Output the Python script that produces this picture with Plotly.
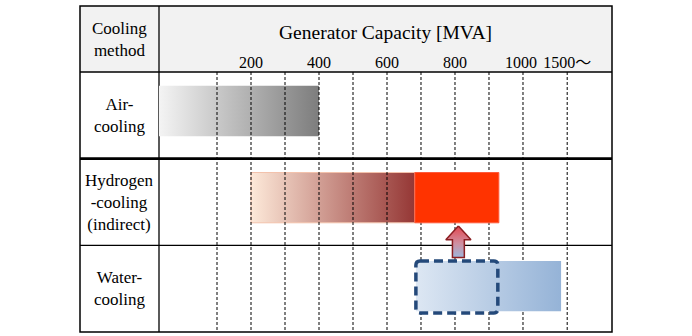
import plotly.graph_objects as go

W, H = 692, 336
FONT = "Liberation Serif, Noto Sans CJK JP, serif"

# ---------------- data ----------------
row_labels = ["Air-<br>cooling", "Hydrogen<br>-cooling<br>(indirect)", "Water-<br>cooling"]
row_index = [0, 1, 2]

tick_vals = [200, 400, 600, 800, 1000, 1130]
tick_text = ["200", "400", "600", "800", "1000\u00a0", "1500～"]
grid_vals = [100, 200, 300, 400, 500, 600, 700, 800, 900, 1000, 1130]

x_min, x_max = -70.6, 1261.8

air_range = [x_min, 400]
hydrogen_grad_range = [200, 682]
hydrogen_red_range = [682, 929]
water_range = [685, 1112]
water_box_range = [685, 926]
arrow_x = 810

# ---------------- geometry helpers ----------------
BAR_HALF = 0.29
BAR_OFF = -0.05


def rect(x0, x1, yc, half=BAR_HALF, off=BAR_OFF):
    y0, y1 = yc + off - half, yc + off + half
    return [x0, x1, x1, x0, x0], [y0, y0, y1, y1, y0]


def px(x):
    return x / W


def py(y):
    return 1 - y / H


fig = go.Figure()

# air gradient bar
xs, ys = rect(air_range[0], air_range[1], row_index[0])
fig.add_trace(go.Scatter(x=xs, y=ys, mode="lines", fill="toself",
                         line=dict(width=0, color="rgba(0,0,0,0)"),
                         fillgradient=dict(type="horizontal",
                                           colorscale=[[0, "#f4f4f4"], [1, "#7d7d7d"]]),
                         hoverinfo="skip", showlegend=False))

# hydrogen gradient bar
xs, ys = rect(hydrogen_grad_range[0], hydrogen_grad_range[1], row_index[1])
fig.add_trace(go.Scatter(x=xs, y=ys, mode="lines", fill="toself",
                         line=dict(width=1, color="#f3c2ab"),
                         fillgradient=dict(type="horizontal",
                                           colorscale=[[0, "#fde9d9"], [1, "#953735"]]),
                         hoverinfo="skip", showlegend=False))

# dashed vertical grid lines
gx, gy = [], []
for v in grid_vals:
    gx += [v, v, None]
    gy += [-0.5, 2.5, None]
fig.add_trace(go.Scatter(x=gx, y=gy, mode="lines",
                         line=dict(color="black", width=1, dash="3px,2px"),
                         hoverinfo="skip", showlegend=False))

# hydrogen red bar
xs, ys = rect(hydrogen_red_range[0], hydrogen_red_range[1], row_index[1])
fig.add_trace(go.Scatter(x=xs, y=ys, mode="lines", fill="toself",
                         line=dict(width=1, color="#ff5a3a"), fillcolor="#ff3300",
                         hoverinfo="skip", showlegend=False))

# water gradient bar
xs, ys = rect(water_range[0], water_range[1], row_index[2], off=-0.03)
fig.add_trace(go.Scatter(x=xs, y=ys, mode="lines", fill="toself",
                         line=dict(width=0, color="rgba(0,0,0,0)"),
                         fillgradient=dict(type="horizontal",
                                           colorscale=[[0, "#dde7f3"], [1, "#95b3d7"]]),
                         hoverinfo="skip", showlegend=False))

# arrow (from water box up to red bar)
tip = row_index[1] + BAR_OFF + BAR_HALF + 0.037
base = row_index[2] - 0.03 - 0.30 - 0.03
neck = tip + 0.16
hw, sw = 37, 17.5
ax = [arrow_x, arrow_x + hw, arrow_x + sw, arrow_x + sw, arrow_x - sw, arrow_x - sw, arrow_x - hw, arrow_x]
ay = [tip, neck, neck, base, base, neck, neck, tip]
fig.add_trace(go.Scatter(x=ax, y=ay, mode="lines", fill="toself",
                         line=dict(width=1.5, color="#8b1e22"),
                         fillgradient=dict(type="vertical", start=base, stop=tip,
                                           colorscale=[[0, "#9db7dd"], [0.45, "#cf8fa0"], [1, "#e4464f"]]),
                         hoverinfo="skip", showlegend=False))

# rounded dashed box on water row
bx0, bx1 = water_box_range
by0, by1 = row_index[2] - 0.02 - 0.30, row_index[2] - 0.02 + 0.30
rx, ry = 12, 0.05
path = (f"M {bx0+rx},{by0} L {bx1-rx},{by0} Q {bx1},{by0} {bx1},{by0+ry} "
        f"L {bx1},{by1-ry} Q {bx1},{by1} {bx1-rx},{by1} L {bx0+rx},{by1} "
        f"Q {bx0},{by1} {bx0},{by1-ry} L {bx0},{by0+ry} Q {bx0},{by0} {bx0+rx},{by0} Z")

shapes = [
    # header background
    dict(type="rect", xref="paper", yref="paper", x0=px(80), x1=px(612), y0=py(72), y1=py(6),
         fillcolor="#f2f2f2", line=dict(width=0), layer="below"),
    # header bottom line
    dict(type="line", xref="paper", yref="paper", x0=px(80), x1=px(612), y0=py(72), y1=py(72),
         line=dict(color="black", width=1.3), layer="below"),
    # column divider
    dict(type="line", xref="paper", yref="paper", x0=px(159), x1=px(159), y0=py(332), y1=py(6),
         line=dict(color="black", width=1.3), layer="below"),
    # thick separator after Air row
    dict(type="line", xref="x domain", yref="y", x0=-(159 - 80) / (612 - 159), x1=1, y0=0.5, y1=0.5,
         line=dict(color="black", width=2.6), layer="below"),
    # separator between hydrogen and water
    dict(type="line", xref="x domain", yref="y", x0=-(159 - 80) / (612 - 159), x1=1, y0=1.5, y1=1.5,
         line=dict(color="black", width=1.3), layer="below"),
    # outer border
    dict(type="rect", xref="paper", yref="paper", x0=px(80), x1=px(612), y0=py(332), y1=py(6),
         line=dict(color="black", width=1.5), fillcolor="rgba(0,0,0,0)", layer="above"),
    # dashed rounded box
    dict(type="path", xref="x", yref="y", path=path,
         line=dict(color="#24497a", width=3.5, dash="9px,5px"), fillcolor="rgba(0,0,0,0)",
         layer="above"),
]

annotations = [
    dict(text="Cooling<br>method", xref="paper", yref="paper", x=px(119), y=py(39),
         xanchor="center", yanchor="middle",
         showarrow=False, font=dict(family=FONT, size=17, color="black"), align="center"),
    dict(text="Generator Capacity [MVA]", xref="paper", yref="paper", x=px(385), y=py(33),
         xanchor="center", yanchor="middle",
         showarrow=False, font=dict(family=FONT, size=19.5, color="black")),
]
for lbl, r in zip(row_labels, row_index):
    annotations.append(dict(text=lbl, xref="paper", yref="y", x=px(119), y=r,
                            xanchor="center", yanchor="middle",
                            showarrow=False, align="center",
                            font=dict(family=FONT, size=17, color="black")))

fig.update_layout(
    width=W, height=H,
    margin=dict(l=0, r=0, t=0, b=0, pad=0),
    paper_bgcolor="white", plot_bgcolor="rgba(0,0,0,0)",
    showlegend=False,
    shapes=shapes, annotations=annotations,
    xaxis=dict(domain=[px(159), px(612)], range=[x_min, x_max], side="top",
               tickvals=tick_vals, ticktext=tick_text, tickangle=0, showgrid=False,
               zeroline=False, showline=False, ticks="",
               tickfont=dict(family=FONT, size=16, color="black"), fixedrange=True),
    yaxis=dict(domain=[py(332), py(72)], range=[2.5, -0.5], visible=False, fixedrange=True),
)

fig.write_html("out.html", config={"displayModeBar": False})
